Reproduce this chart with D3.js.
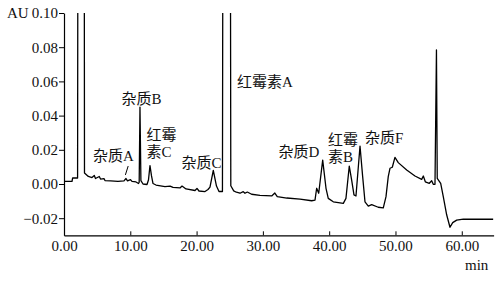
<!DOCTYPE html>
<meta charset="utf-8">
<script src="https://d3js.org/d3.v7.min.js"></script>
<style>
  body { margin: 0; background: #fff; }
</style>
<svg id="chart" width="504" height="284"></svg>
<script>
// retention time (min) and absorbance (AU)
const times = [0.00, 1.21, 1.30, 2.05, 2.16, 3.00, 3.09, 3.67, 4.22, 4.57, 4.75, 5.32, 5.51, 6.03, 6.18, 7.04, 8.14, 9.05, 9.35, 9.58,
  10.03, 10.26, 10.86, 11.24, 11.34, 11.46, 11.60, 11.92, 12.52, 12.74, 12.97, 13.20, 13.42, 13.88, 15.23, 16.00, 16.44, 17.50, 17.80, 18.40,
  19.76, 20.06, 20.36, 21.27, 21.72, 22.02, 22.52, 23.00, 23.38, 23.90, 24.06, 25.00, 25.16, 25.60, 26.00, 26.55, 27.04, 27.30, 27.65, 28.30,
  29.56, 31.33, 31.80, 32.17, 33.60, 35.60, 37.36, 37.86, 38.11, 38.42, 39.02, 39.52, 39.86, 40.62, 42.13, 42.53, 43.03, 43.39, 43.74, 44.04,
  44.65, 45.05, 45.40, 45.90, 46.41, 47.40, 48.16, 48.57, 48.91, 49.17, 49.52, 49.92, 50.42, 51.69, 52.94, 53.95, 54.20, 54.50, 55.10, 55.46,
  55.70, 55.96, 56.18, 56.30, 56.82, 57.21, 57.72, 58.22, 58.63, 59.23, 60.23, 64.75];
const absorbance = [0.0015, 0.0015, 0.0035, 0.0035, 0.40, 0.40, 0.0064, 0.0044, 0.0038, 0.0050, 0.0032, 0.0044, 0.0029, 0.0032, 0.0020, 0.0018, 0.0015, 0.0018, 0.0032, 0.0018,
  0.0025, 0.0015, 0.0012, 0.0003, 0.0010, 0.0450, 0.0020, 0.0000, -0.0003, 0.0023, 0.0108, 0.0047, 0.0003, -0.0006, -0.0015, -0.0012, -0.0020, -0.0023, -0.0012, -0.0029,
  -0.0038, -0.0026, -0.0041, -0.0044, -0.0032, -0.0018, 0.0079, -0.0012, -0.0044, -0.0044, 0.40, 0.40, -0.0010, -0.0040, -0.0048, -0.0054, -0.0045, -0.0054, -0.0047, -0.0060,
  -0.0066, -0.0070, -0.0053, -0.0074, -0.0082, -0.0088, -0.0098, -0.0094, -0.0025, -0.0054, 0.0140, -0.0025, -0.0084, -0.0104, -0.0113, -0.0084, 0.0105, 0.0023, -0.0064, -0.0070,
  0.0222, 0.0043, -0.0104, -0.0129, -0.0121, -0.0136, -0.0140, -0.0074, 0.0043, 0.0092, 0.0098, 0.0156, 0.0125, 0.0082, 0.0047, 0.0027, 0.0047, 0.0013, 0.0004, 0.0019,
  -0.0002, -0.0002, 0.0784, 0.0033, 0.0004, -0.0074, -0.0180, -0.0253, -0.0226, -0.0211, -0.0205, -0.0206];

// x ticks
const xMajor = [0, 10, 20, 30, 40, 50, 60];
const xMinor = d3.range(0, 65, 2);
// y ticks
const yMajor = [-0.02, 0, 0.02, 0.04, 0.06, 0.08, 0.10];
const yMinor = d3.range(-0.03, 0.1001, 0.005);

// peak labels: text lines, anchored at (time, AU)
const peakNames = [["杂质A"], ["杂质B"], ["红霉", "素C"], ["杂质C"], ["红霉素A"], ["杂质D"], ["红霉", "素B"], ["杂质F"]];
const peakTime = [4.37, 8.67, 12.44, 17.72, 26.10, 32.35, 39.82, 45.40];
const peakAU = [0.0132, 0.0468, 0.0257, 0.0096, 0.0567, 0.0158, 0.0228, 0.0240];

const svg = d3.select("#chart");
const font = "'Liberation Serif', 'Noto Sans CJK SC', serif";

const x = d3.scaleLinear().domain([0, 64.8]).range([64, 493.6]);
const y = d3.scaleLinear().domain([-0.03, 0.10]).range([235.3, 13]);

svg.append("clipPath").attr("id", "plot")
  .append("rect")
  .attr("x", x(0)).attr("y", y(0.10))
  .attr("width", x(64.8) - x(0)).attr("height", y(-0.03) - y(0.10));

// axes
const gx = svg.append("g").attr("transform", `translate(0,${y(-0.03)})`);
gx.call(d3.axisBottom(x).tickValues(xMinor).tickSize(-3).tickSizeOuter(0).tickFormat(""));
gx.call(d3.axisBottom(x).tickValues(xMajor).tickSize(-4).tickSizeOuter(0).tickPadding(5).tickFormat(d3.format(".2f")));

const gy = svg.append("g").attr("transform", `translate(${x(0)},0)`);
gy.call(d3.axisLeft(y).tickValues(yMinor).tickSize(-3).tickSizeOuter(0).tickFormat(""));
gy.call(d3.axisLeft(y).tickValues(yMajor).tickSize(5).tickSizeOuter(0).tickPadding(1).tickFormat(d3.format(".2f")));

svg.selectAll(".domain").attr("stroke", "#000").attr("stroke-width", 1.2);
svg.selectAll(".tick line").attr("stroke", "#000");
svg.selectAll(".tick text").attr("font-family", font).attr("font-size", 15).attr("fill", "#111");

svg.append("text").attr("x", 7).attr("y", y(0.10) + 5)
  .attr("font-family", font).attr("font-size", 15).attr("fill", "#111").text("AU");
svg.append("text").attr("x", 465).attr("y", 270)
  .attr("font-family", font).attr("font-size", 15).attr("fill", "#111").text("min");

// trace
const line = d3.line().x(i => x(times[i])).y(i => y(absorbance[i]));
svg.append("path")
  .attr("clip-path", "url(#plot)")
  .attr("d", line(d3.range(times.length)))
  .attr("fill", "none")
  .attr("stroke", "#000")
  .attr("stroke-width", 1.3)
  .attr("stroke-linejoin", "round");

// peak labels
peakNames.forEach((lines, i) => {
  const t = svg.append("text")
    .attr("font-family", font).attr("font-size", 15).attr("fill", "#111");
  lines.forEach((s, j) => {
    t.append("tspan").attr("x", x(peakTime[i])).attr("y", y(peakAU[i]) + j * 17).text(s);
  });
});

// pointer for impurity A
svg.append("line")
  .attr("x1", x(9.68)).attr("y1", y(0.0105))
  .attr("x2", x(9.26)).attr("y2", y(0.0053))
  .attr("stroke", "#000").attr("stroke-width", 1);
</script>
